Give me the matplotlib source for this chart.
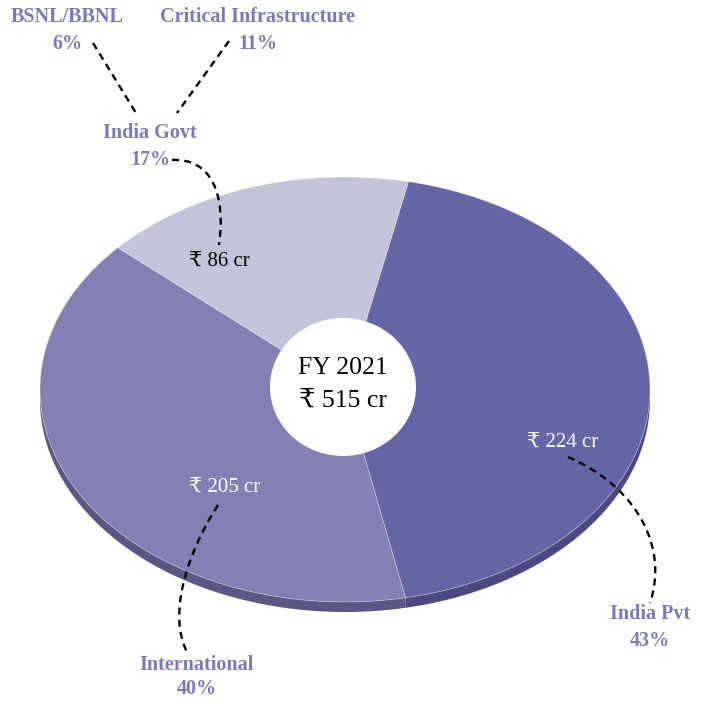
import numpy as np
import matplotlib
matplotlib.use("Agg")
import matplotlib.pyplot as plt
from matplotlib.patches import Ellipse, PathPatch
from matplotlib.path import Path

plt.rcParams['font.family'] = ['Liberation Serif', 'DejaVu Serif']

# revenue split, FY 2021 (Rs crore)
segments = ['India Pvt', 'International', 'India Govt']
values = [224, 205, 86]
total = 515
govt_parts = ['BSNL/BBNL', 'Critical Infrastructure']
govt_share = [6, 11]
pct = [round(v / total * 100) for v in values]

top_colors = ['#6466a6', '#8380b3', '#c3c3da']
side_colors = ['#4b4a80', '#5a5782', '#9a9abb']
label_col = '#7c79b8'

W, H = 704, 701
fig = plt.figure(figsize=(W / 100, H / 100), dpi=100)

# pie axes: unit circle squashed into an ellipse (3d look)
cx, cy, rx, ry = 345, 389.5, 305, 212.5
ax = fig.add_axes([0, 0, 1, 1])
wedges, _ = ax.pie(values, colors=top_colors, startangle=78, counterclock=False,
                   radius=1, center=(0, 0),
                   wedgeprops=dict(edgecolor=(1, 1, 1, 0.35), linewidth=0.6))
ax.set_aspect('auto')
ax.set_xlim(-cx / rx, (W - cx) / rx)
ax.set_ylim(-(H - cy) / ry, cy / ry)
ax.axis('off')

# side band of the disc (front half only)
depth = 10 / ry
for w, sc in zip(wedges, side_colors):
    t = np.radians(np.linspace(w.theta1, w.theta2, 300))
    t = t[np.sin(t) <= 0.0]
    if len(t) < 2:
        continue
    xs, ys = np.cos(t), np.sin(t)
    px = np.concatenate([xs, xs[::-1]])
    py = np.concatenate([ys, ys[::-1] - depth])
    ax.fill(px, py, color=sc, zorder=0, lw=0)
for w in wedges:
    w.set_zorder(1)

# overlay in pixel coordinates for labels and leaders
ov = fig.add_axes([0, 0, 1, 1], zorder=5)
ov.set_xlim(0, W)
ov.set_ylim(H, 0)
ov.axis('off')
ov.patch.set_alpha(0)

ov.add_patch(Ellipse((343, 387), 146, 138, color='white', lw=0))
ov.text(343, 368, 'FY 2021', ha='center', va='center', fontsize=18.5, color='black')
ov.text(343, 401, f'\u20b9 {total} cr', ha='center', va='center', fontsize=18.5, color='black')


def leader(pts):
    codes = [Path.MOVETO] + [Path.CURVE4] * 3 if len(pts) == 4 else [Path.MOVETO, Path.LINETO]
    ov.add_patch(PathPatch(Path(pts, codes), fill=False, lw=1.7, color='black',
                           linestyle=(0, (3, 2.2))))


def name_label(x, y, name, p, gap=27):
    ov.text(x, y, name, ha='center', va='center', fontsize=14.5, color=label_col, fontweight='bold')
    ov.text(x, y + gap, f'{p}%', ha='center', va='center', fontsize=14.5, color=label_col, fontweight='bold')


# value labels on slices
ov.text(563, 443, f'\u20b9 {values[0]} cr', ha='center', va='center', fontsize=15, color='white')
ov.text(225, 488, f'\u20b9 {values[1]} cr', ha='center', va='center', fontsize=15, color='white')
ov.text(219, 262, f'\u20b9 {values[2]} cr', ha='center', va='center', fontsize=15, color='black')

# segment names
name_label(650, 614, segments[0], pct[0])
name_label(197, 665, segments[1], pct[1], gap=24)
name_label(150, 133, segments[2], pct[2])
name_label(67, 17, govt_parts[0], govt_share[0])
name_label(258, 17, govt_parts[1], govt_share[1])

leader([(568, 457), (640, 488), (668, 550), (650, 603)])
leader([(218, 505), (186, 555), (168, 615), (187, 652)])
leader([(172, 160), (212, 158), (226, 195), (219, 245)])
leader([(93, 43), (136, 113)])
leader([(229, 41), (177, 113)])

fig.savefig('out.png', dpi=100)
